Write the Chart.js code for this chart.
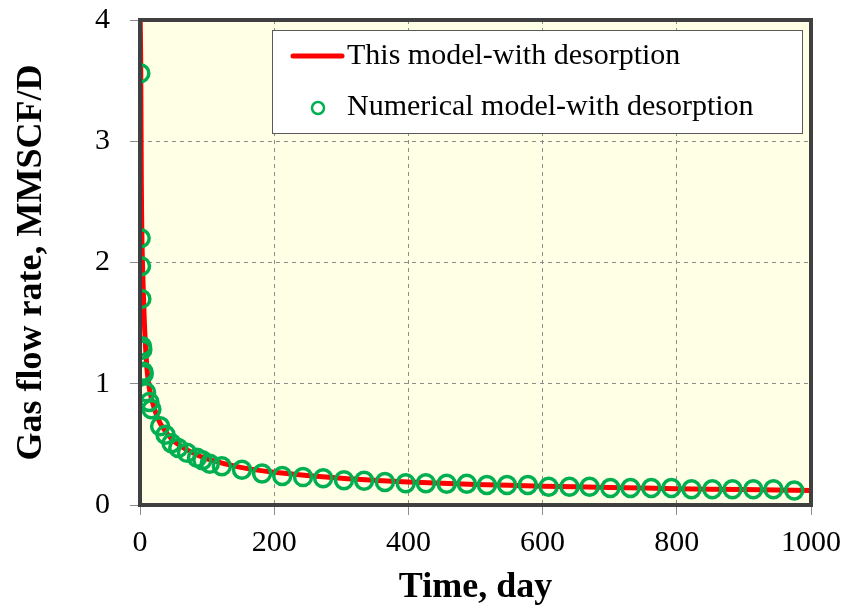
<!DOCTYPE html>
<html>
<head>
<meta charset="utf-8">
<script src="https://cdn.jsdelivr.net/npm/chart.js@4.4.1/dist/chart.umd.min.js"></script>
<style>
  html, body { margin: 0; padding: 0; background: #fff; }
  #wrap { width: 849px; height: 615px; }
</style>
</head>
<body>
<div id="wrap"><canvas id="rateChart" width="849" height="615"></canvas></div>
<script>
// analytical model curve
var lineTime = [0.3, 1, 2, 3, 5, 7, 10, 12, 15, 20, 27, 35, 50, 75, 100, 150, 200, 300, 400, 500, 600, 700, 800, 900, 1000];
var lineRate = [4.0, 3.7, 2.65, 2.15, 1.75, 1.44, 1.15, 1.04, 0.93, 0.82, 0.71, 0.63, 0.53, 0.44, 0.38, 0.31, 0.27, 0.22, 0.19, 0.17, 0.155, 0.145, 0.135, 0.127, 0.12];

// numerical model points
var numTime = [0.5, 1, 1.5, 2, 3, 3.5, 5, 5.5, 9, 14, 17, 30, 38, 47, 57, 70, 85, 93, 104, 122,
    152, 182, 212, 243, 273, 304, 334, 365, 396, 426, 457, 487, 517, 547, 578,
    609, 640, 670, 701, 731, 762, 792, 822, 853, 883, 914, 944, 975];
var numRate = [3.56, 2.20, 1.97, 1.70, 1.31, 1.28, 1.10, 1.08, 0.93, 0.85, 0.79, 0.65, 0.58, 0.51, 0.47, 0.43, 0.39, 0.37, 0.34, 0.32,
    0.29, 0.26, 0.24, 0.23, 0.22, 0.205, 0.20, 0.19, 0.18, 0.18, 0.175, 0.175, 0.165, 0.165, 0.165,
    0.15, 0.15, 0.15, 0.14, 0.14, 0.14, 0.14, 0.13, 0.13, 0.13, 0.13, 0.13, 0.12];

var xTicks = [0, 200, 400, 600, 800, 1000];
var yTicks = [0, 1, 2, 3, 4];

var legendLabels = ["This model-with desorption", "Numerical model-with desorption"];

function toPoints(xs, ys) {
    var pts = [];
    for (var i = 0; i < xs.length; i++) {
        pts.push({x: xs[i], y: ys[i]});
    }
    return pts;
}

var RED = '#FF0000';
var GREEN = '#00B050';
var serif = "'Liberation Serif', 'Times New Roman', serif";

// yellow plot background
var plotBackground = {
    id: 'plotBackground',
    beforeDraw: function (chart) {
        var a = chart.chartArea, ctx = chart.ctx;
        ctx.save();
        ctx.fillStyle = '#FFFFE6';
        ctx.fillRect(a.left, a.top, a.right - a.left, a.bottom - a.top);
        ctx.restore();
    }
};

// frame + legend box
var frameAndLegend = {
    id: 'frameAndLegend',
    afterDraw: function (chart) {
        var a = chart.chartArea, ctx = chart.ctx;
        ctx.save();
        ctx.strokeStyle = '#404040';
        ctx.lineWidth = 4;
        ctx.strokeRect(a.left, a.top, a.right - a.left, a.bottom - a.top);

        // legend
        var lx = 272, ly = 30, lw = 530, lh = 103;
        ctx.fillStyle = '#FFFFFF';
        ctx.fillRect(lx, ly, lw, lh);
        ctx.strokeStyle = '#595959';
        ctx.lineWidth = 1;
        ctx.strokeRect(lx + 0.5, ly + 0.5, lw, lh);

        ctx.strokeStyle = RED;
        ctx.lineWidth = 5;
        ctx.lineCap = 'round';
        ctx.beginPath();
        ctx.moveTo(293, 56);
        ctx.lineTo(342, 56);
        ctx.stroke();

        ctx.strokeStyle = GREEN;
        ctx.lineWidth = 2.5;
        ctx.beginPath();
        ctx.arc(318, 108, 6, 0, Math.PI * 2);
        ctx.stroke();

        ctx.fillStyle = '#000000';
        ctx.font = "30px " + serif;
        ctx.textBaseline = 'middle';
        ctx.textAlign = 'left';
        ctx.fillText(legendLabels[0], 347, 56);
        ctx.fillText(legendLabels[1], 347, 107);
        ctx.restore();
    }
};

var ctx = document.getElementById('rateChart').getContext('2d');
var rateChart = new Chart(ctx, {
    type: 'scatter',
    data: {
        datasets: [{
            label: legendLabels[1],
            data: toPoints(numTime, numRate),
            showLine: false,
            pointStyle: 'circle',
            pointRadius: 8.5,
            pointBorderWidth: 3.5,
            pointBorderColor: GREEN,
            pointBackgroundColor: 'rgba(0,0,0,0)',
            order: 0
        }, {
            label: legendLabels[0],
            data: toPoints(lineTime, lineRate),
            showLine: true,
            borderColor: RED,
            borderWidth: 5,
            pointRadius: 0,
            tension: 0.3,
            order: 1
        }]
    },
    options: {
        responsive: false,
        animation: false,
        layout: {padding: {top: 20, right: 38, left: 0, bottom: 0}},
        plugins: {
            legend: {display: false},
            tooltip: {enabled: false}
        },
        scales: {
            x: {
                type: 'linear',
                min: 0,
                max: 1000,
                afterBuildTicks: function (scale) {
                    scale.ticks = xTicks.map(function (v) { return {value: v}; });
                },
                afterFit: function (scale) {
                    scale.height = 110;
                    scale.paddingLeft = 0;
                    scale.paddingRight = 0;
                },
                grid: {
                    color: function (c) {
                        return (c.tick && (c.tick.value === 0 || c.tick.value === 1000)) ? 'rgba(0,0,0,0)' : '#8C8C8C';
                    },
                    tickColor: '#8C8C8C',
                    tickLength: 10,
                    lineWidth: 1
                },
                border: {display: false, dash: [4, 4]},
                ticks: {
                    font: {family: serif, size: 30},
                    color: '#000',
                    padding: 10,
                    maxRotation: 0,
                    callback: function (v) { return String(v); }
                },
                title: {
                    display: true,
                    text: 'Time, day',
                    font: {family: serif, size: 36, weight: 'bold'},
                    color: '#000',
                    padding: {top: 0, bottom: 6}
                }
            },
            y: {
                type: 'linear',
                min: 0,
                max: 4,
                afterBuildTicks: function (scale) {
                    scale.ticks = yTicks.map(function (v) { return {value: v}; });
                },
                afterFit: function (scale) {
                    scale.width = 140;
                    scale.paddingTop = 0;
                    scale.paddingBottom = 0;
                },
                grid: {
                    color: function (c) {
                        return (c.tick && (c.tick.value === 0 || c.tick.value === 4)) ? 'rgba(0,0,0,0)' : '#8C8C8C';
                    },
                    tickColor: '#8C8C8C',
                    tickLength: 10,
                    lineWidth: 1
                },
                border: {display: false, dash: [4, 4]},
                ticks: {
                    font: {family: serif, size: 30},
                    color: '#000',
                    padding: 20
                },
                title: {
                    display: true,
                    text: 'Gas flow rate, MMSCF/D',
                    font: {family: serif, size: 36, weight: 'bold'},
                    color: '#000',
                    padding: {top: 10, bottom: 0}
                }
            }
        }
    },
    plugins: [plotBackground, frameAndLegend]
});
</script>
</body>
</html>
